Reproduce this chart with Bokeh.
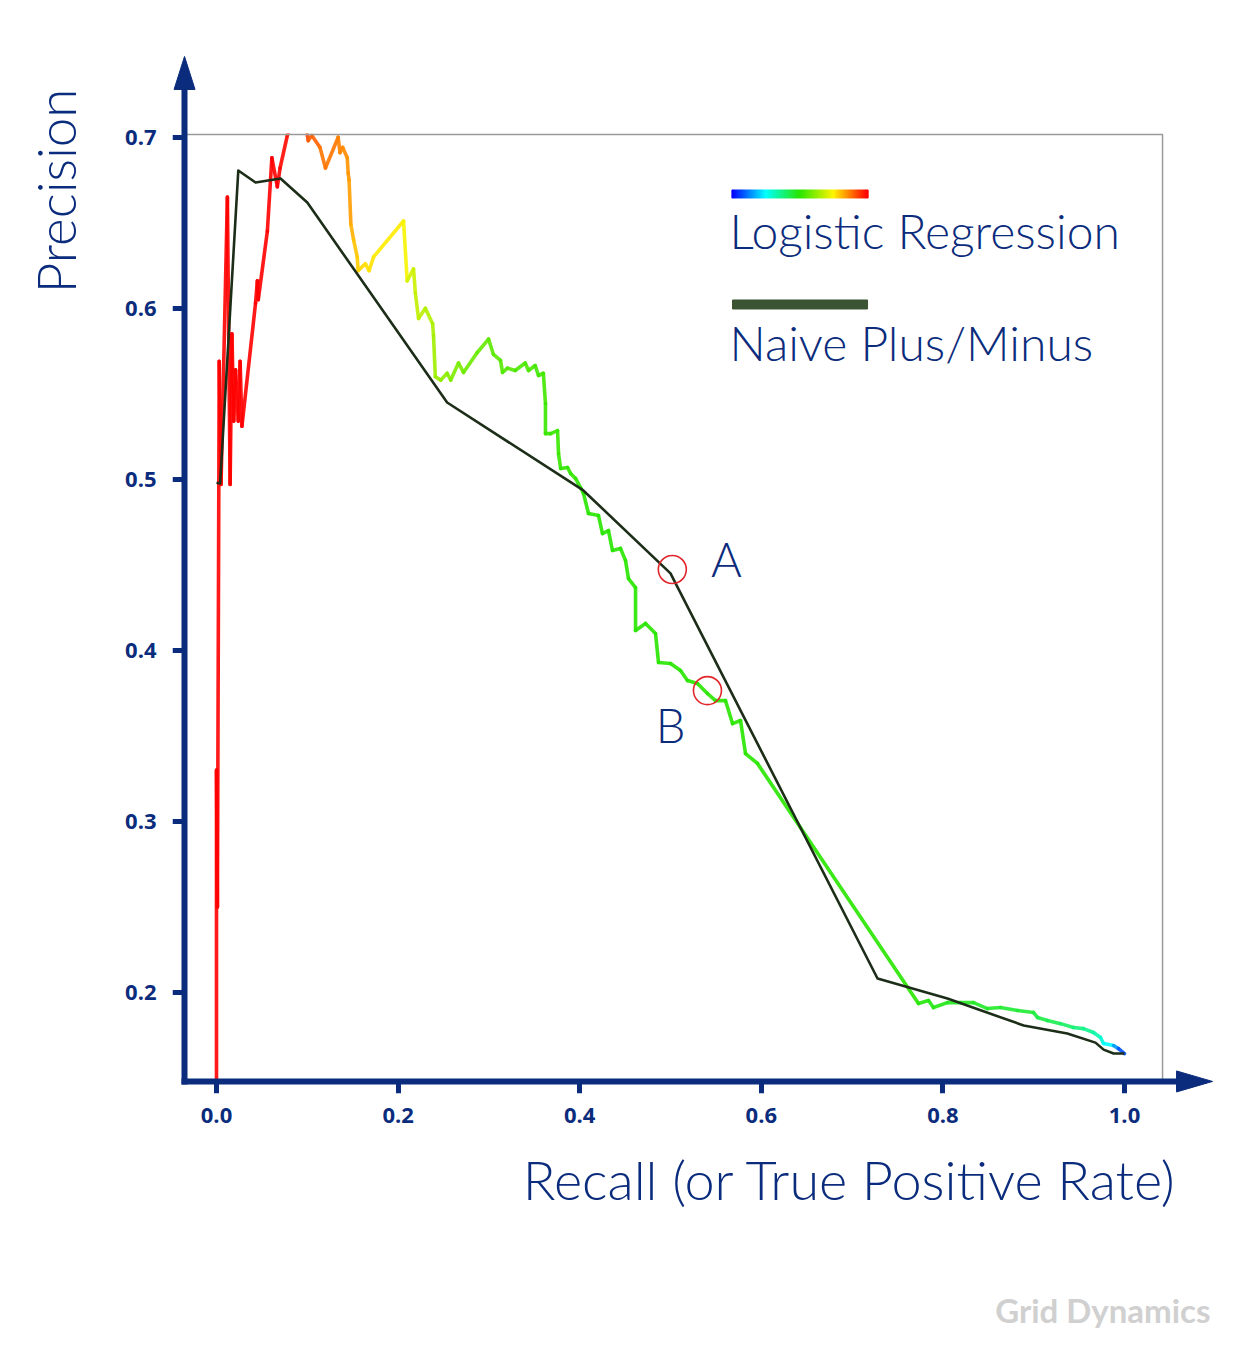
import numpy as np
from bokeh.plotting import figure
from bokeh.models import (Range1d, FixedTicker, PrintfTickFormatter, LinearAxis,
                          Label, Title, ColumnDataSource)
from bokeh.embed import file_html
from bokeh.resources import INLINE

# ---------------- data ----------------
# Logistic Regression PR curve (recall, precision) and colour score (0 = blue ... 1 = red)
recall_lr = [0.000, 0.000, 0.001, 0.003, 0.005, 0.012, 0.015, 0.017, 0.019, 0.021,
             0.024, 0.026, 0.028, 0.043, 0.045, 0.046, 0.056, 0.061, 0.067, 0.070,
             0.078, 0.085, 0.097, 0.101, 0.105, 0.114, 0.120, 0.134, 0.136, 0.139,
             0.144, 0.145, 0.146, 0.148, 0.151, 0.155, 0.156, 0.164, 0.168, 0.173,
             0.206, 0.210, 0.217, 0.219, 0.2225, 0.230, 0.238, 0.239, 0.241, 0.247,
             0.254, 0.258, 0.2665, 0.272, 0.287, 0.2996, 0.305, 0.3128, 0.315, 0.3205,
             0.329, 0.340, 0.3436, 0.351, 0.3546, 0.360, 0.3623, 0.3623, 0.368, 0.3756,
             0.3767, 0.379, 0.3866, 0.390, 0.3954, 0.4009, 0.4042, 0.4097, 0.4207, 0.4251,
             0.4317, 0.4361, 0.4449, 0.4504, 0.4537, 0.4615, 0.4615, 0.4725, 0.4835, 0.4868,
             0.500, 0.511, 0.5187, 0.5297, 0.5407, 0.5496, 0.5606, 0.5683, 0.5771, 0.5826,
             0.5958, 0.7731, 0.7841, 0.7896, 0.805, 0.8194, 0.8337, 0.8491, 0.8634, 0.8822,
             0.8998, 0.9042, 0.9152, 0.9295, 0.9438, 0.9548, 0.9659, 0.9736, 0.9769, 0.9879,
             0.9934, 1.000]
precision_lr = [0.148, 0.330, 0.250, 0.569, 0.497, 0.665, 0.497, 0.585, 0.534, 0.564,
                0.534, 0.569, 0.531, 0.603, 0.616, 0.605, 0.645, 0.688, 0.671, 0.682,
                0.701, 0.712, 0.712, 0.698, 0.701, 0.694, 0.682, 0.700, 0.691, 0.694,
                0.688, 0.679, 0.675, 0.649, 0.640, 0.630, 0.622, 0.626, 0.622, 0.630,
                0.651, 0.616, 0.623, 0.609, 0.594, 0.600, 0.591, 0.584, 0.560, 0.558,
                0.562, 0.558, 0.568, 0.5625, 0.574, 0.582, 0.573, 0.5695, 0.5625, 0.565,
                0.5636, 0.568, 0.5636, 0.5665, 0.5607, 0.562, 0.5443, 0.5267, 0.5267, 0.5285,
                0.515, 0.5063, 0.5069, 0.5034, 0.5005, 0.4952, 0.4917, 0.480, 0.4788, 0.4683,
                0.470, 0.4584, 0.4596, 0.4526, 0.442, 0.4367, 0.4116, 0.4157, 0.4099, 0.3929,
                0.3923, 0.3882, 0.3824, 0.3806, 0.3748, 0.3706, 0.3706, 0.3572, 0.359, 0.3397,
                0.3339, 0.1936, 0.1953, 0.1912, 0.1941, 0.1941, 0.1941, 0.1906, 0.1912, 0.1895,
                0.1883, 0.1854, 0.1836, 0.1818, 0.1795, 0.1789, 0.1766, 0.1737, 0.1702, 0.169,
                0.1672, 0.1643]
score_lr = [1.00, 1.00, 1.00, 1.00, 1.00, 1.00, 1.00, 1.00, 1.00, 1.00,
            1.00, 1.00, 1.00, 1.00, 1.00, 1.00, 1.00, 1.00, 1.00, 0.99,
            0.98, 0.96, 0.93, 0.90, 0.90, 0.88, 0.88, 0.87, 0.86, 0.86,
            0.85, 0.85, 0.84, 0.82, 0.80, 0.79, 0.78, 0.77, 0.77, 0.76,
            0.74, 0.70, 0.69, 0.68, 0.67, 0.66, 0.65, 0.64, 0.63, 0.62,
            0.61, 0.60, 0.59, 0.58, 0.57, 0.56, 0.56, 0.55, 0.55, 0.55,
            0.54, 0.54, 0.54, 0.53, 0.53, 0.53, 0.52, 0.52, 0.52, 0.52,
            0.52, 0.51, 0.51, 0.51, 0.51, 0.51, 0.50, 0.50, 0.50, 0.50,
            0.50, 0.50, 0.50, 0.50, 0.50, 0.50, 0.50, 0.50, 0.50, 0.50,
            0.50, 0.50, 0.50, 0.50, 0.50, 0.50, 0.50, 0.50, 0.50, 0.50,
            0.50, 0.49, 0.48, 0.48, 0.47, 0.47, 0.46, 0.46, 0.45, 0.45,
            0.44, 0.43, 0.42, 0.40, 0.38, 0.36, 0.33, 0.29, 0.25, 0.15,
            0.08, 0.00]

# Naive Plus/Minus curve
recall_naive = [0.000, 0.004, 0.024, 0.043, 0.0705, 0.100, 0.254, 0.404, 0.500,
                0.728, 0.805, 0.889, 0.937, 0.968, 0.977, 0.988, 1.000]
precision_naive = [0.498, 0.4976, 0.6805, 0.6735, 0.6759, 0.6618, 0.5449, 0.4935, 0.445,
                   0.2082, 0.1965, 0.1807, 0.1760, 0.1707, 0.1666, 0.1643, 0.1643]

# Marked points
marked_names = ["A", "B"]
marked_recall = [0.502, 0.5407]
marked_precision = [0.4473, 0.3765]

x_ticks = [0.0, 0.2, 0.4, 0.6, 0.8, 1.0]
y_ticks = [0.2, 0.3, 0.4, 0.5, 0.6, 0.7]

series_names = ["Logistic Regression", "Naive Plus/Minus"]
x_title = "Recall (or True Positive Rate)"
y_title = "Precision"
watermark = "Grid Dynamics"

# ---------------- styling helpers ----------------
NAVY = "#0b2c7c"
NAIVE = "#1c2d18"
NAIVE_LEGEND = "#3b5433"
LIGHT = "Lato Light"

PX = 1 / 908.0      # one pixel in x data units
PY = 1 / 1710.6     # one pixel in y data units
AX_X, BOX_X = -0.0352, 1.0419      # y-axis position, right edge of grey box
AX_Y, BOX_Y = 0.148, 0.7016        # x-axis position, top edge of grey box


def rainbow(v):
    """blue -> cyan -> green -> yellow -> red"""
    stops = [0.0, 0.25, 0.5, 0.75, 1.0]
    r = np.interp(v, stops, [0, 0, 40, 255, 255])
    g = np.interp(v, stops, [0, 255, 230, 245, 0])
    b = np.interp(v, stops, [255, 255, 0, 0, 0])
    return ["#%02x%02x%02x" % (int(a), int(c), int(d)) for a, c, d in zip(r, g, b)]


# ---------------- figure ----------------
W, H = 1226, 1355
FL, FT, FB = 172, 40, 1093                       # frame edges (px)
x_range = Range1d((FL - 216) * PX, (W - 216) * PX)
y_range = Range1d(0.7 - (FB - 136.7) * PY, 0.7 + (136.7 - FT) * PY)
p = figure(width=W, height=H, output_backend="svg", toolbar_location=None,
           x_range=x_range, y_range=y_range,
           x_axis_location=None, y_axis_location=None,
           min_border_left=FL, min_border_right=0, min_border_top=FT,
           min_border_bottom=H - FB)
p.background_fill_color = "white"
p.border_fill_color = "white"
p.outline_line_color = None
for g in p.grid:
    g.visible = False


def label_axis(standoff):
    """axis at the frame edge that only carries the tick labels"""
    ax = LinearAxis(ticker=FixedTicker(ticks=[]))
    ax.formatter = PrintfTickFormatter(format="%.1f")
    ax.axis_line_color = None
    ax.major_tick_line_color = None
    ax.minor_tick_line_color = None
    ax.major_tick_out = 0
    ax.major_tick_in = 0
    ax.major_label_text_color = NAVY
    ax.major_label_text_font = "Open Sans"
    ax.major_label_text_font_style = "bold"
    ax.major_label_text_font_size = "22px"
    ax.major_label_standoff = standoff
    return ax


def rule_axis(ticks, loc, bounds):
    """axis line + ticks at the true axis position (no labels)"""
    ax = LinearAxis(ticker=FixedTicker(ticks=ticks), fixed_location=loc, bounds=bounds)
    ax.major_label_overrides = {t: "" for t in ticks}
    ax.major_label_text_font_size = "0px"
    ax.axis_line_color = NAVY
    ax.axis_line_width = 6
    ax.major_tick_line_color = NAVY
    ax.major_tick_line_width = 5
    ax.major_tick_out = 12
    ax.major_tick_in = 0
    ax.minor_tick_line_color = None
    return ax


xlab = label_axis(14)
xlab.ticker = FixedTicker(ticks=x_ticks)
ylab = label_axis(16)
ylab.ticker = FixedTicker(ticks=y_ticks)
p.add_layout(xlab, "below")
p.add_layout(rule_axis(x_ticks, AX_Y, (AX_X - 3 * PX, 1.075)), "below")
p.add_layout(ylab, "left")
p.add_layout(rule_axis(y_ticks, AX_X, (AX_Y - 3 * PY, 0.735)), "left")

# axis titles and watermark as side-panel titles
p.add_layout(Title(text=x_title, text_font=LIGHT, text_font_size="54px",
                   text_font_style="normal", text_color=NAVY, align="right",
                   offset=W - 1177, standoff=38), "below")
p.add_layout(Title(text=" ", text_font_size="10px", standoff=39), "below")
p.add_layout(Title(text=watermark, text_font="Lato", text_font_size="33px",
                   text_font_style="bold", text_color="#d0d0d0", align="right",
                   offset=W - 1210, standoff=10), "below")
p.add_layout(Title(text=" ", text_font_size="10px", standoff=18), "left")
p.add_layout(Title(text=y_title, text_font=LIGHT, text_font_size="53px",
                   text_font_style="normal", text_color=NAVY, align="right",
                   offset=48, standoff=10), "left")

# Logistic Regression coloured segments
seg_cols = rainbow(np.array(score_lr[:-1]))
src = ColumnDataSource(dict(x0=recall_lr[:-1], y0=precision_lr[:-1],
                            x1=recall_lr[1:], y1=precision_lr[1:], c=seg_cols))
p.segment("x0", "y0", "x1", "y1", source=src, color="c", line_width=3.6,
          line_cap="round", line_alpha=0.9)

# Naive Plus/Minus
p.line(recall_naive, precision_naive, color=NAIVE, line_width=2.6, line_join="round")

# clip everything above the grey box (white mask), then the box itself
p.quad(left=AX_X + 3 * PX, right=x_range.end, bottom=BOX_Y + PY, top=y_range.end,
       fill_color="white", line_color=None)
p.line([AX_X, BOX_X, BOX_X], [BOX_Y, BOX_Y, AX_Y], color="#9a9a9a", line_width=1.5)

# arrow heads of the axes
p.patch([AX_X - 10.5 * PX, AX_X + 10.5 * PX, AX_X],
        [BOX_Y + 45 * PY, BOX_Y + 45 * PY, BOX_Y + 78 * PY],
        color=NAVY, line_width=1)
p.patch([BOX_X + 14 * PX, BOX_X + 14 * PX, BOX_X + 50 * PX],
        [AX_Y - 10.5 * PY, AX_Y + 10.5 * PY, AX_Y],
        color=NAVY, line_width=1)

# marked points
p.scatter(marked_recall, marked_precision, marker="circle", size=28,
          fill_color=None, line_color="#e0262a", line_width=1.6)
for name, bx, by in ((marked_names[0], 0.5617, 0.4537),
                     (marked_names[1], 0.500, 0.3561)):
    p.add_layout(Label(x=bx, y=by, text=name, text_font=LIGHT, text_font_size="47px",
                       text_color=NAVY, text_align="center", text_baseline="alphabetic"))

# legend
gx = np.linspace(0.5683, 0.7170, 121)
gstep = gx[1] - gx[0]
p.rect(x=gx, y=0.6668, width=gstep * 1.05, height=8, height_units="screen",
       color=rainbow(np.linspace(0, 1, 121)))
p.rect(x=(0.5683 + 0.7170) / 2, y=0.6022, width=0.7170 - 0.5683, height=9,
       height_units="screen", color=NAIVE_LEGEND)
p.add_layout(Label(x=0.565, y=0.6455, text=series_names[0], text_font=LIGHT,
                   text_font_size="48px", text_color=NAVY, text_baseline="alphabetic"))
p.add_layout(Label(x=0.565, y=0.580, text=series_names[1], text_font=LIGHT,
                   text_font_size="48px", text_color=NAVY, text_baseline="alphabetic"))

open("out.html", "w").write(file_html(p, INLINE))
